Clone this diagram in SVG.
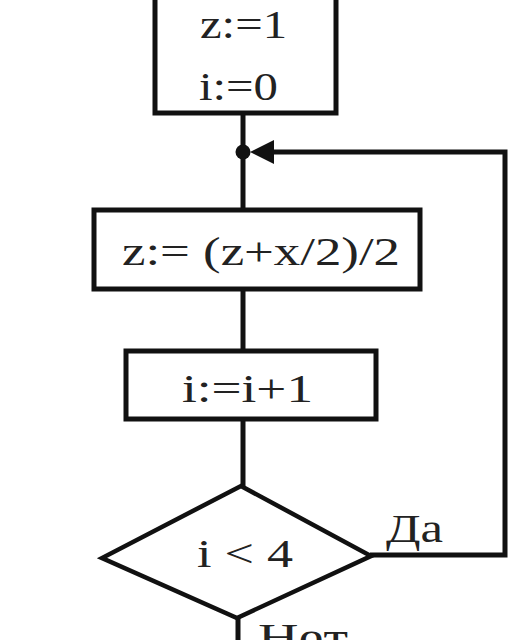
<svg xmlns="http://www.w3.org/2000/svg" width="528" height="640" viewBox="0 0 528 640">
<style>
.box{fill:#fff;stroke:#111;stroke-width:5}
.dia{fill:#fff;stroke:#111;stroke-width:4.5;stroke-linejoin:miter}
.ln{fill:none;stroke:#111;stroke-width:5}
.t{font-family:"Liberation Serif","Times New Roman",serif;font-size:40px;fill:#222}
</style>
<rect width="528" height="640" fill="#fff"/>
<g id="connectors">
<path class="ln" d="M243 113 V210"/>
<path class="ln" d="M243 289 V350"/>
<path class="ln" d="M243 420 V486"/>
<path class="ln" d="M238 618 V645"/>
<path class="ln" d="M370 555 H505 V152 H265"/>
<circle cx="243" cy="152" r="7.5" fill="#111"/>
<polygon points="250,152 274,140 274,164" fill="#111"/>
<text class="t" x="386" y="542" textLength="57" lengthAdjust="spacingAndGlyphs">Да</text>
<text class="t" x="258" y="651" textLength="90" lengthAdjust="spacingAndGlyphs">Нет</text>
</g>
<g id="init">
<rect class="box" x="155" y="-10" width="181" height="123"/>
<text class="t" x="200" y="38" textLength="87" lengthAdjust="spacingAndGlyphs">z:=1</text>
<text class="t" x="199" y="100" textLength="79" lengthAdjust="spacingAndGlyphs">i:=0</text>
</g>
<g id="calc">
<rect class="box" x="94" y="210" width="326" height="79"/>
<text class="t" x="122" y="265" textLength="278" lengthAdjust="spacingAndGlyphs">z:= (z+x/2)/2</text>
</g>
<g id="inc">
<rect class="box" x="126" y="351" width="250" height="68"/>
<text class="t" x="182" y="402" textLength="131" lengthAdjust="spacingAndGlyphs">i:=i+1</text>
</g>
<g id="cond">
<polygon class="dia" points="241,486 371,556 237,618 102,558"/>
<text class="t" x="197" y="567" textLength="96" lengthAdjust="spacingAndGlyphs">i &lt; 4</text>
</g>
</svg>
